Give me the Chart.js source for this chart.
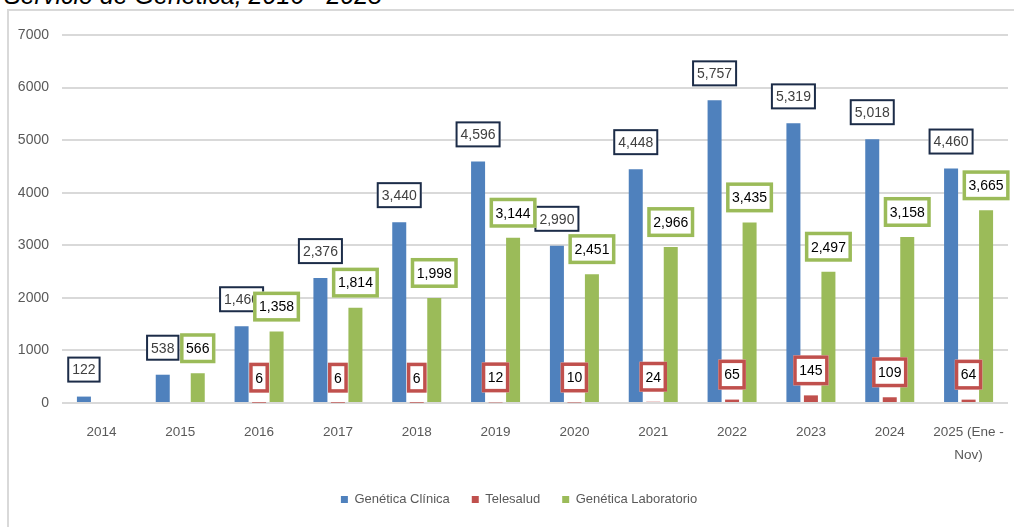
<!DOCTYPE html>
<html>
<head>
<meta charset="utf-8">
<script src="https://cdn.jsdelivr.net/npm/chart.js@4"></script>
<style>
html,body{margin:0;padding:0;background:#fff;width:1014px;height:527px;overflow:hidden;}
#frame{position:absolute;left:7px;top:9px;width:2000px;height:1000px;border-left:2px solid #d9d9d9;border-top:2px solid #d9d9d9;}
#title{position:absolute;left:4px;top:-17px;font:italic 25px "Liberation Sans",Arial,sans-serif;line-height:25px;color:#000;white-space:nowrap;}
canvas{position:absolute;left:0;top:0;}
</style>
</head>
<body>
<div id="frame"></div>
<div id="title">Servicio de Genética, 2016 - 2025</div>
<canvas id="c" width="1014" height="527"></canvas>
<script>
const categories = ['2014','2015','2016','2017','2018','2019','2020','2021','2022','2023','2024',['2025 (Ene -','Nov)']];
const seriesNames = ['Genética Clínica','Telesalud','Genética Laboratorio'];
const clinica = [122,538,1460,2376,3440,4596,2990,4448,5757,5319,5018,4460];
const telesalud = [null,null,6,6,6,12,10,24,65,145,109,64];
const laboratorio = [null,566,1358,1814,1998,3144,2451,2966,3435,2497,3158,3665];
const yMin = 0, yMax = 7000, yStep = 1000;

const FONT = "'Liberation Sans',Arial,sans-serif";
const colors = ['#4f81bd','#c0504d','#9bbb59'];
const labelStyles = [
  {border:'#1c2c48', lw:2, h:26, padX:5, off:27, color:'#404040', font:"14px " + FONT},
  {border:'#c0504d', lw:3.5, h:30, padX:6, off:25, color:'#000', font:"14px " + FONT},
  {border:'#9bbb59', lw:3.5, h:30, padX:6, off:25, color:'#000', font:"14px " + FONT}
];

const boxLabels = {
  id:'boxLabels',
  afterLayout(chart){
    const lg = chart.legend;
    if (lg) { lg.left += 15; lg.right += 15; }
  },
  afterDatasetsDraw(chart){
    const ctx = chart.ctx;
    chart.data.datasets.forEach((ds,i)=>{
      const meta = chart.getDatasetMeta(i);
      const st = labelStyles[i];
      meta.data.forEach((bar,j)=>{
        const v = ds.data[j];
        if (v == null) return;
        const txt = v.toLocaleString('en-US');
        ctx.save();
        ctx.font = st.font;
        const tw = ctx.measureText(txt).width;
        const w = tw + st.padX*2, h = st.h;
        const cx = bar.x, cy = bar.y - st.off;
        const x0 = cx - w/2, y0 = cy - h/2;
        ctx.fillStyle = '#fff';
        ctx.fillRect(x0, y0, w, h);
        ctx.lineWidth = st.lw;
        ctx.strokeStyle = st.border;
        ctx.strokeRect(x0 + st.lw/2, y0 + st.lw/2, w - st.lw, h - st.lw);
        ctx.fillStyle = st.color;
        ctx.textAlign = 'center';
        ctx.textBaseline = 'middle';
        ctx.fillText(txt, cx, cy + 1);
        ctx.restore();
      });
    });
  }
};

new Chart(document.getElementById('c'), {
  type:'bar',
  data:{
    labels: categories,
    datasets:[
      {label:seriesNames[0], data:clinica, backgroundColor:colors[0], borderWidth:0},
      {label:seriesNames[1], data:telesalud, backgroundColor:colors[1], borderWidth:0},
      {label:seriesNames[2], data:laboratorio, backgroundColor:colors[2], borderWidth:0}
    ]
  },
  options:{
    responsive:false,
    animation:false,
    devicePixelRatio:1,
    categoryPercentage:0.666,
    barPercentage:0.8,
    layout:{padding:{top:35,right:6,left:0,bottom:11}},
    plugins:{
      legend:{
        position:'bottom',
        labels:{boxWidth:7,boxHeight:7,padding:22,color:'#595959',font:{family:FONT,size:13}}
      },
      tooltip:{enabled:false},
      title:{display:false}
    },
    scales:{
      x:{
        grid:{display:false},
        border:{display:false},
        ticks:{color:'#595959',font:{family:FONT,size:13.5,lineHeight:1.75},padding:9,maxRotation:0,autoSkip:false},
        afterFit(s){ s.height = 68; s.paddingLeft = 0; s.paddingRight = 0; }
      },
      y:{
        min:yMin,max:yMax,
        grid:{color:'#d9d9d9',lineWidth:2,drawTicks:false},
        border:{display:false},
        ticks:{stepSize:yStep,color:'#595959',font:{family:FONT,size:14},padding:13,callback:v=>String(v)},
        afterFit(s){ s.width = 62; }
      }
    }
  },
  plugins:[boxLabels]
});
</script>
</body>
</html>
